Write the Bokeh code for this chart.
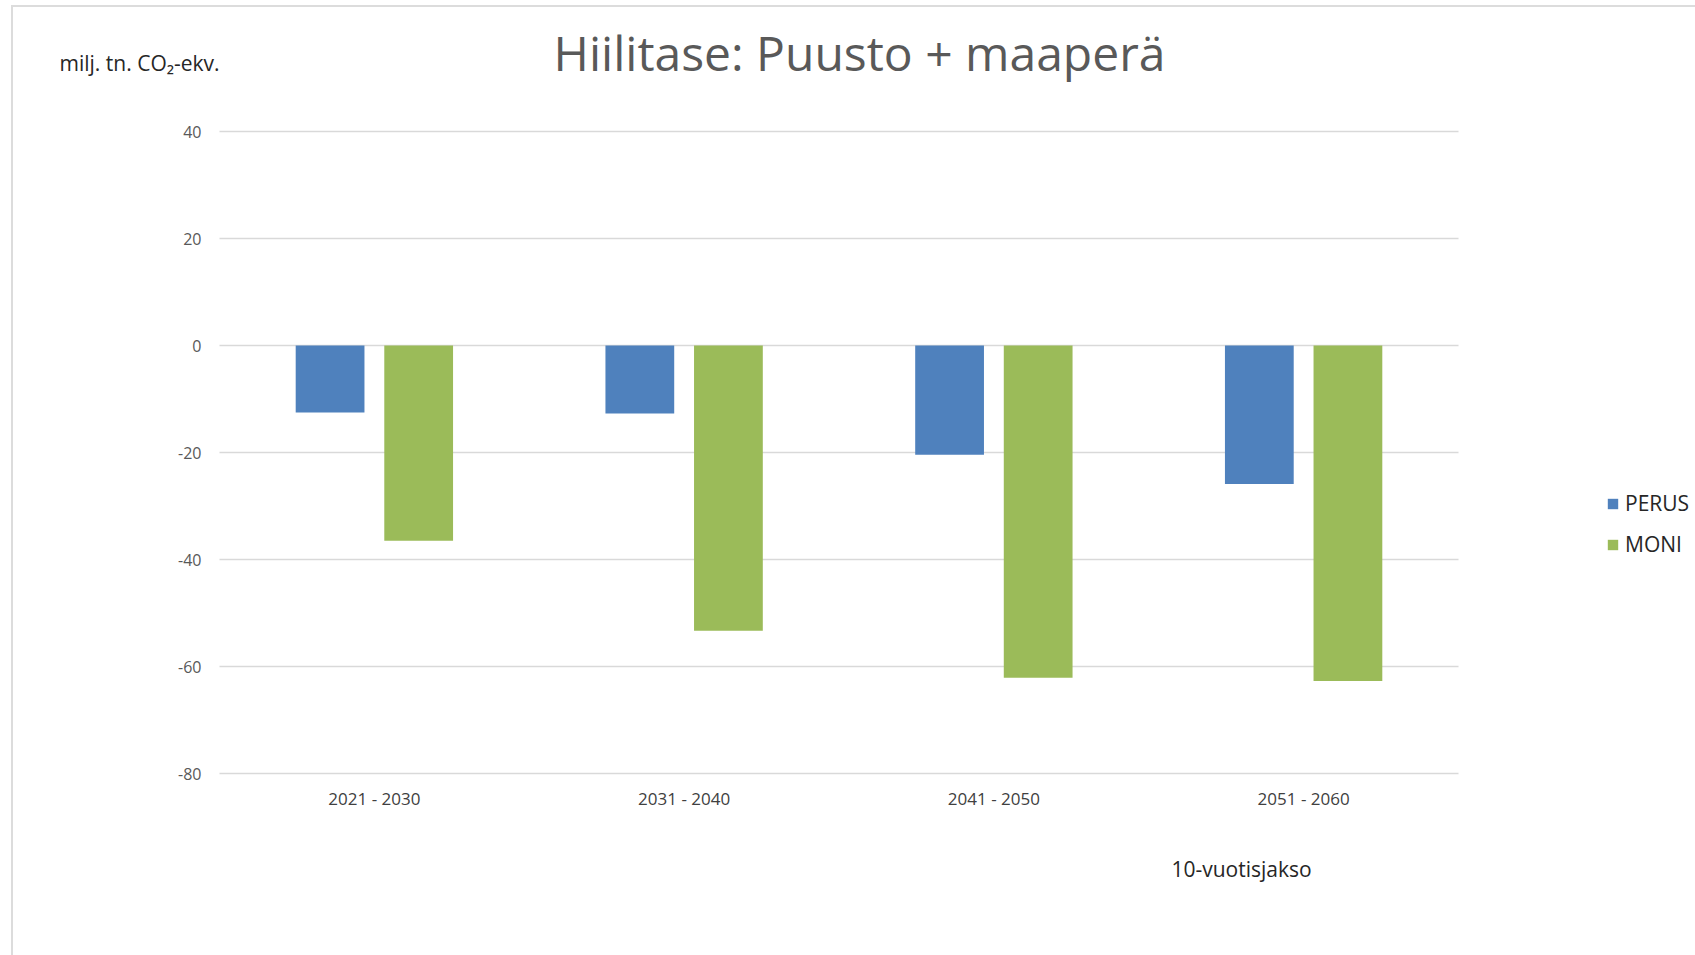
from bokeh.plotting import figure
from bokeh.models import (ColumnDataSource, Range1d, Label, Legend, LegendItem,
                          FixedTicker)
from bokeh.transform import dodge
from bokeh.embed import file_html
from bokeh.resources import INLINE

# ---- data ----
periods = ["2021 - 2030", "2031 - 2040", "2041 - 2050", "2051 - 2060"]
perus = [-12.5, -12.7, -20.4, -25.9]
moni = [-36.5, -53.3, -62.1, -62.7]
series_names = ["PERUS", "MONI"]
y_ticks = [40, 20, 0, -20, -40, -60, -80]

title_text = "Hiilitase: Puusto + maaperä"
y_label_text = "milj. tn. CO\u2082-ekv."
x_label_text = "10-vuotisjakso"

FONT = "Open Sans"
BLUE = "#4F81BD"
GREEN = "#9BBB59"

n = len(periods)
xc = [i + 0.5 for i in range(n)]          # category centres on a numeric axis
src = ColumnDataSource(dict(x=xc, period=periods, perus=perus, moni=moni))

W, H = 1695, 955
# plot area: x 0..n spans px 219..1458 ; y 40..-80 spans px 131..773
pxu_x = (1458 - 219) / n
pxu_y = (773 - 131) / (max(y_ticks) - min(y_ticks))
x0 = -219 / pxu_x
x1 = n + (W - 1458) / pxu_x
y1 = max(y_ticks) + 131 / pxu_y
y0 = min(y_ticks) - (H - 773) / pxu_y

p = figure(width=W, height=H, output_backend="svg", toolbar_location=None,
           x_range=Range1d(x0, x1), y_range=Range1d(y0, y1), title=None,
           min_border_left=0, min_border_right=0, min_border_top=0, min_border_bottom=0)
p.outline_line_color = None
p.background_fill_color = "white"
p.border_fill_color = "white"

r1 = p.vbar(x=dodge("x", -0.143), top="perus", bottom=0, width=0.222,
            source=src, fill_color=BLUE, line_color=None)
r2 = p.vbar(x=dodge("x", 0.143), top="moni", bottom=0, width=0.222,
            source=src, fill_color=GREEN, line_color=None)

# y axis (drawn at the left edge of the plot area)
yax = p.yaxis[0]
yax.ticker = FixedTicker(ticks=y_ticks)
yax.major_label_overrides = {v: str(v) for v in y_ticks}
yax.fixed_location = 0
yax.axis_line_color = None
yax.major_tick_line_color = None
yax.minor_tick_line_color = None
yax.major_tick_out = 0
yax.major_tick_in = 0
yax.major_label_text_font = FONT
yax.major_label_text_font_size = "16px"
yax.major_label_text_color = "#595959"
yax.major_label_standoff = 18

# x axis (drawn at the bottom of the plot area)
xax = p.xaxis[0]
xax.ticker = FixedTicker(ticks=xc)
xax.major_label_overrides = {x: lab for x, lab in zip(xc, periods)}
xax.fixed_location = min(y_ticks)
xax.axis_line_color = None
xax.major_tick_line_color = None
xax.minor_tick_line_color = None
xax.major_tick_out = 0
xax.major_tick_in = 0
xax.major_label_text_font = FONT
xax.major_label_text_font_size = "17px"
xax.major_label_text_color = "#404040"
xax.major_label_standoff = 13

p.xgrid.grid_line_color = None
p.ygrid.grid_line_color = "#d9d9d9"
p.ygrid.grid_line_width = 1.3
p.ygrid.bounds = (min(y_ticks), max(y_ticks))
try:
    p.ygrid.cross_bounds = (0, n)
except Exception:
    p.ygrid.grid_line_color = None
    p.segment(x0=[0] * len(y_ticks), x1=[n] * len(y_ticks), y0=y_ticks, y1=y_ticks,
              line_color="#d9d9d9", line_width=1.3, level="underlay")

# texts
p.add_layout(Label(x=(859 - 219) / pxu_x, y=max(y_ticks) + (131 - 51.5) / pxu_y,
                   text=title_text, text_font=FONT,
                   text_font_size="48px", text_color="#595959", text_align="center",
                   text_baseline="alphabetic"))
p.add_layout(Label(x=(59 - 219) / pxu_x, y=max(y_ticks) + (131 - 62.5) / pxu_y,
                   text=y_label_text, text_font=FONT,
                   text_font_size="21px", text_color="#262626", text_align="left",
                   text_baseline="alphabetic"))
p.add_layout(Label(x=(1241 - 219) / pxu_x, y=max(y_ticks) - (868 - 131) / pxu_y,
                   text=x_label_text, text_font=FONT,
                   text_font_size="21px", text_color="#262626", text_align="center",
                   text_baseline="alphabetic"))

legend = Legend(items=[LegendItem(label=series_names[0], renderers=[r1]),
                       LegendItem(label=series_names[1], renderers=[r2])],
                location=(1606, 397), orientation="vertical")
legend.glyph_width = 13
legend.glyph_height = 13
legend.label_height = 13
legend.label_standoff = 6
legend.spacing = 13
legend.padding = 0
legend.margin = 0
legend.border_line_color = None
legend.background_fill_alpha = 0
legend.label_text_font = FONT
legend.label_text_font_size = "21px"
legend.label_text_color = "#262626"
p.add_layout(legend)

html = file_html(p, INLINE)
css = ("<style>body::before{content:'';position:fixed;left:11px;top:5px;right:0;bottom:0;"
       "border-left:2px solid #dcdcdc;border-top:2px solid #dcdcdc;pointer-events:none;z-index:10;}"
       "html,body{margin:0;padding:0;overflow:hidden;}</style></head>")
html = html.replace("</head>", css, 1)
open("out.html", "w").write(html)
